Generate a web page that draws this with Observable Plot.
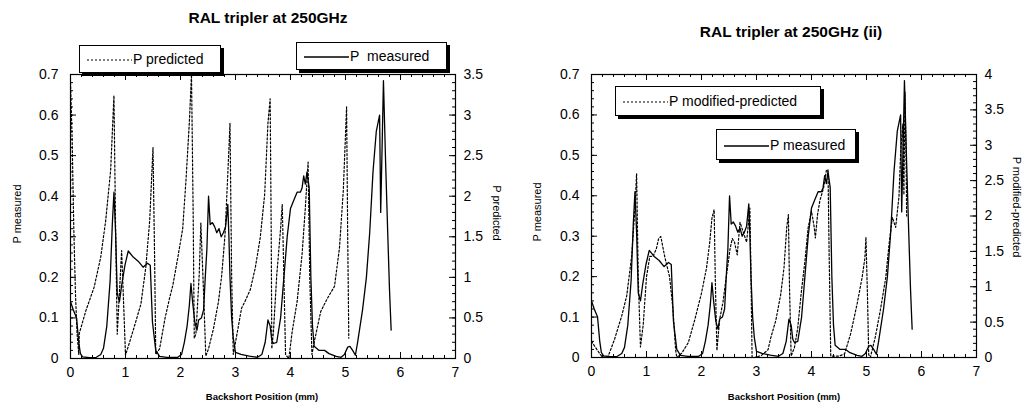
<!DOCTYPE html>
<html><head><meta charset="utf-8">
<script src="https://cdn.jsdelivr.net/npm/d3@7"></script>
<script src="https://cdn.jsdelivr.net/npm/@observablehq/plot@0.6"></script>
<style>
body{margin:0;background:#fff;font-family:"Liberation Sans",Arial,Helvetica,sans-serif;color:#000;}
#wrap{position:relative;width:1025px;height:406px;overflow:hidden;}
.panel{position:absolute;top:0;}
.title{position:absolute;font-weight:bold;font-size:15.5px;white-space:nowrap;transform:translate(-50%,-50%);}
.xlab{position:absolute;font-weight:bold;font-size:9.5px;white-space:nowrap;transform:translate(-50%,-50%);}
.ylab{position:absolute;font-size:11px;white-space:nowrap;}
.legend{position:absolute;background:#fff;border:1px solid #000;box-shadow:3px 3px 0 #000;font-size:14px;display:flex;align-items:center;white-space:nowrap;padding-left:7px;box-sizing:border-box;z-index:5;}
.legend svg{margin-right:1px;}
</style>
</head><body>
<div id="wrap"></div>
<script>
// ---- tick values ----
const xMajor = [0, 1, 2, 3, 4, 5, 6, 7];
const yLeftTicks = [0, 0.1, 0.2, 0.3, 0.4, 0.5, 0.6, 0.7];
const predTicks = [0, 0.5, 1, 1.5, 2, 2.5, 3, 3.5];
const modTicks = [0, 0.5, 1, 1.5, 2, 2.5, 3, 3.5, 4];

// ---- P measured (left axis) ----
const measuredPos = [0.00,0.05,0.11,0.15,0.18,0.22,0.35,0.47,0.55,0.60,0.66,0.72,0.76,0.79,0.82,0.85,0.89,0.93,0.99,1.05,1.14,1.23,1.32,1.40,1.45,1.49,1.55,1.62,1.75,1.95,2.02,2.07,2.12,2.16,2.19,2.22,2.26,2.30,2.33,2.38,2.42,2.45,2.48,2.51,2.54,2.58,2.62,2.66,2.70,2.74,2.78,2.82,2.86,2.88,2.90,2.93,2.96,3.00,3.10,3.25,3.40,3.48,3.54,3.59,3.63,3.66,3.69,3.75,3.82,3.88,3.94,4.00,4.06,4.12,4.18,4.21,4.24,4.27,4.30,4.34,4.37,4.40,4.43,4.52,4.62,4.70,4.83,4.92,4.98,5.04,5.08,5.13,5.18,5.22,5.31,5.38,5.44,5.50,5.56,5.62,5.64,5.67,5.69,5.73,5.77,5.80,5.83];
const measuredP = [0.14,0.12,0.10,0.04,0.012,0.004,0.002,0.003,0.01,0.025,0.08,0.19,0.33,0.41,0.31,0.16,0.14,0.18,0.23,0.265,0.25,0.24,0.225,0.235,0.23,0.09,0.02,0.005,0.003,0.003,0.01,0.04,0.08,0.13,0.185,0.14,0.09,0.07,0.095,0.10,0.12,0.20,0.27,0.40,0.33,0.335,0.325,0.31,0.32,0.30,0.31,0.325,0.38,0.30,0.20,0.10,0.05,0.015,0.01,0.006,0.003,0.01,0.04,0.095,0.08,0.045,0.037,0.04,0.10,0.20,0.30,0.37,0.39,0.41,0.41,0.42,0.45,0.43,0.46,0.42,0.20,0.08,0.03,0.02,0.02,0.012,0.005,0.003,0.01,0.028,0.03,0.02,0.008,0.04,0.12,0.20,0.31,0.46,0.56,0.60,0.36,0.55,0.685,0.48,0.30,0.17,0.07];

// ---- P predicted (right axis, 0–3.5) ----
const predictedPos = [0.00,0.03,0.06,0.09,0.12,0.15,0.16,0.28,0.43,0.55,0.64,0.73,0.79,0.82,0.85,0.93,0.97,1.00,1.06,1.15,1.28,1.37,1.44,1.50,1.53,1.55,1.62,1.72,1.80,1.86,1.95,2.04,2.10,2.16,2.20,2.23,2.25,2.28,2.34,2.37,2.42,2.46,2.51,2.60,2.69,2.75,2.81,2.86,2.90,2.93,2.96,3.00,3.11,3.17,3.27,3.36,3.45,3.53,3.59,3.63,3.65,3.66,3.69,3.75,3.82,3.85,3.88,3.91,3.97,4.03,4.12,4.21,4.27,4.32,4.35,4.39,4.43,4.55,4.67,4.80,4.89,4.96,5.02,5.04,5.06];
const predictedP = [3.4,2.7,1.6,0.8,0.3,0.05,0.31,0.59,0.88,1.25,1.70,2.32,3.24,1.6,0.3,1.33,0.6,0.04,0.17,0.37,0.67,1.13,1.70,2.6,1.2,0.05,0.12,0.5,0.74,0.9,1.24,1.6,2.2,2.9,3.5,1.8,0.25,0.3,1.03,1.67,0.8,0.03,0.12,0.37,0.7,1.03,1.53,2.27,2.9,1.0,0.05,0.2,0.62,0.70,0.85,1.12,1.49,2.02,2.9,3.2,1.5,0.12,0.33,1.03,1.6,1.9,1.0,0.05,0.0,0.33,0.70,1.28,1.86,2.42,1.0,0.05,0.2,0.58,0.74,0.89,1.36,2.07,3.1,1.5,0.25];

// ---- P modified-predicted (right axis, 0–4) ----
const modifiedPos = [0.00,0.10,0.20,0.30,0.42,0.55,0.64,0.73,0.79,0.82,0.85,0.89,0.94,1.00,1.06,1.12,1.18,1.22,1.26,1.33,1.42,1.48,1.53,1.55,1.64,1.76,1.88,2.00,2.09,2.15,2.19,2.23,2.25,2.28,2.33,2.39,2.45,2.52,2.56,2.60,2.65,2.70,2.76,2.82,2.88,2.90,2.92,2.97,3.09,3.21,3.26,3.35,3.44,3.50,3.55,3.58,3.60,3.63,3.69,3.75,3.81,3.88,3.94,4.00,4.05,4.07,4.11,4.15,4.22,4.27,4.30,4.32,4.35,4.50,4.60,4.71,4.83,4.92,4.97,4.99,5.02,5.04,5.07,5.16,5.25,5.35,5.41,5.47,5.53,5.59,5.62,5.66,5.68,5.70,5.72,5.73];
const modifiedP = [0.23,0.11,0.0,0.01,0.26,0.59,0.87,1.43,2.11,2.6,1.14,0.15,0.46,1.14,1.43,1.43,1.54,1.68,1.71,1.43,1.14,0.69,0.11,0.0,0.06,0.21,0.54,0.91,1.26,1.63,1.97,2.09,1.14,0.1,0.54,0.78,1.14,1.54,1.68,1.63,1.45,1.91,1.77,1.63,2.11,1.14,0.0,0.0,0.03,0.11,0.28,0.52,0.89,1.27,1.84,2.02,1.0,0.02,0.14,0.42,0.89,1.36,1.84,2.07,1.84,1.69,2.02,2.21,2.4,2.64,2.66,1.5,0.02,0.02,0.05,0.33,0.76,1.13,1.4,1.7,0.8,0.04,0.0,0.29,0.66,1.13,1.6,1.98,1.84,2.27,2.88,3.3,2.3,3.75,2.8,2.0];

const H = 406;
const fmt = v => String(Math.round(v * 10) / 10);

function panel({width, ml, mr, mt, mb, dotPos, dotVal, rightMax, rightTicks}) {
  const k = rightMax / 0.7;
  const pw = width - ml - mr, ph = H - mt - mb;
  const xMinor = d3.range(0, 7.0001, 0.2);
  const yMinor = d3.range(0, 0.7001, 0.02);
  const rMinor = d3.range(0, rightMax + 1e-9, 0.1).map(v => v / k);
  const rMajor = rightTicks.map(v => v / k);
  const tick = {stroke: "#000", strokeWidth: 1};
  return Plot.plot({
    width, height: H,
    marginLeft: ml, marginRight: mr, marginTop: mt, marginBottom: mb,
    x: {domain: [0, 7]},
    y: {domain: [0, 0.7]},
    style: {fontFamily: '"Liberation Sans", Arial, Helvetica, sans-serif', fontSize: "14px", color: "#000", background: "transparent", overflow: "visible"},
    marks: [
      Plot.ruleX(xMinor, {x: d => d, insetTop: ph - 3, ...tick}),
      Plot.ruleX(xMinor, {x: d => d, insetBottom: ph - 3, ...tick}),
      Plot.ruleX(xMajor, {x: d => d, insetTop: ph - 6, ...tick}),
      Plot.ruleX(xMajor, {x: d => d, insetBottom: ph - 6, ...tick}),
      Plot.ruleY(yMinor, {y: d => d, insetRight: pw - 3, ...tick}),
      Plot.ruleY(yLeftTicks, {y: d => d, insetRight: pw - 6, ...tick}),
      Plot.ruleY(rMinor, {y: d => d, insetLeft: pw - 3, ...tick}),
      Plot.ruleY(rMajor, {y: d => d, insetLeft: pw - 6, ...tick}),
      Plot.axisX(xMajor, {anchor: "bottom", tickSize: 0, tickPadding: 9, label: null, fontSize: 14}),
      Plot.axisY(yLeftTicks, {anchor: "left", tickSize: 0, tickPadding: 12, label: null, tickFormat: fmt, fontSize: 14}),
      Plot.axisY(rMajor, {anchor: "right", tickSize: 0, tickPadding: 8, label: null, tickFormat: d => fmt(d * k), fontSize: 14}),
      Plot.line(dotPos, {x: dotPos, y: dotVal.map(v => v / k), stroke: "#000", strokeWidth: 1.2, strokeDasharray: "2,2", clip: true}),
      Plot.line(measuredPos, {x: measuredPos, y: measuredP, stroke: "#000", strokeWidth: 1.3, clip: true}),
      Plot.frame({stroke: "#000", strokeWidth: 1.2})
    ]
  });
}

const wrap = document.getElementById("wrap");
function place(node, left) { node.classList.add("panel"); node.style.left = left + "px"; wrap.appendChild(node); }

place(panel({width: 512, ml: 70, mr: 57, mt: 74, mb: 48, dotPos: predictedPos, dotVal: predictedP, rightMax: 3.5, rightTicks: predTicks}), 0);
place(panel({width: 513, ml: 79, mr: 49, mt: 74, mb: 49, dotPos: modifiedPos, dotVal: modifiedP, rightMax: 4, rightTicks: modTicks}), 512);

function add(cls, text, css) {
  const d = document.createElement("div");
  d.className = cls; d.textContent = text;
  Object.assign(d.style, css);
  wrap.appendChild(d); return d;
}
add("title", "RAL tripler at 250GHz", {left: "268px", top: "18px"});
add("title", "RAL tripler at 250GHz (ii)", {left: "791px", top: "32px"});
add("xlab", "Backshort Position (mm)", {left: "262px", top: "396px"});
add("xlab", "Backshort Position (mm)", {left: "784px", top: "396px"});
add("ylab", "P measured", {left: "17px", top: "214px", transform: "translate(-50%,-50%) rotate(-90deg)"});
add("ylab", "P predicted", {left: "497px", top: "213px", transform: "translate(-50%,-50%) rotate(90deg)"});
add("ylab", "P measured", {left: "537px", top: "212px", transform: "translate(-50%,-50%) rotate(-90deg)"});
add("ylab", "P modified-predicted", {left: "1017px", top: "207px", transform: "translate(-50%,-50%) rotate(90deg)"});

function legend(text, dashed, css) {
  const d = document.createElement("div");
  d.className = "legend";
  Object.assign(d.style, css);
  const ns = "http://www.w3.org/2000/svg";
  const s = document.createElementNS(ns, "svg");
  s.setAttribute("width", "45"); s.setAttribute("height", "10");
  const l = document.createElementNS(ns, "line");
  l.setAttribute("x1", "0"); l.setAttribute("x2", "45"); l.setAttribute("y1", "6"); l.setAttribute("y2", "6");
  l.setAttribute("stroke", "#000"); l.setAttribute("stroke-width", dashed ? "1.2" : "1.3");
  if (dashed) l.setAttribute("stroke-dasharray", "2,2");
  s.appendChild(l); d.appendChild(s);
  const t = document.createElement("span"); t.textContent = text; d.appendChild(t);
  wrap.appendChild(d);
}
legend("P predicted", true, {left: "79px", top: "45px", width: "142px", height: "28px"});
legend("P\u00a0\u00a0measured", false, {left: "296px", top: "42px", width: "151px", height: "28px"});
legend("P modified-predicted", true, {left: "615px", top: "86px", width: "206px", height: "30px"});
legend("P measured", false, {left: "716px", top: "129px", width: "140px", height: "31px"});
</script>
</body></html>
